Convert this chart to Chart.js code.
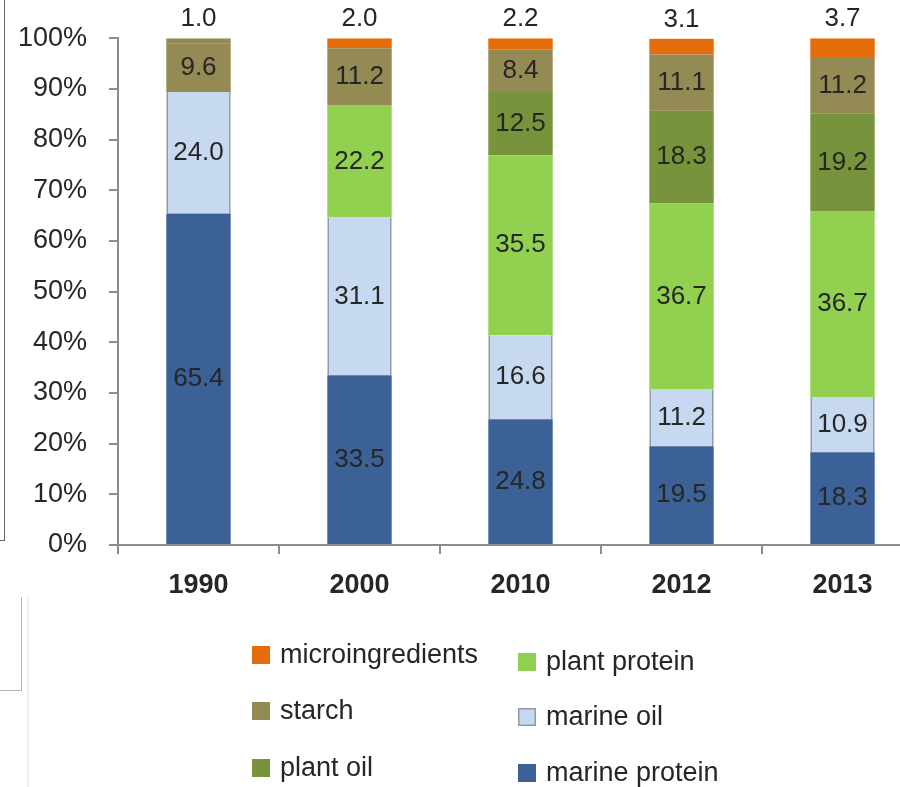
<!DOCTYPE html>
<html>
<head>
<meta charset="utf-8">
<script src="https://cdn.jsdelivr.net/npm/chart.js@4/dist/chart.umd.min.js"></script>
<style>
  html, body { margin: 0; padding: 0; background: #fff; overflow: hidden; }
  #wrap { position: absolute; left: 0; top: 0; width: 925px; height: 787px; }
  .edge { position: absolute; box-sizing: border-box; }
</style>
</head>
<body>
<!-- leftover frame lines along the left edge -->
<div class="edge" style="left:0;top:-2px;width:5px;height:543px;border-right:1.5px solid #666;border-bottom:1.5px solid #666;"></div>
<div class="edge" style="left:0;top:597px;width:22px;height:94px;border-right:1px solid #b5b5b5;border-bottom:1px solid #b5b5b5;"></div>
<div class="edge" style="left:27px;top:597px;width:2px;height:190px;background:#eeeeee;"></div>

<div id="wrap"><canvas id="feedChart" width="925" height="787"></canvas></div>

<script>
// feed composition by year, % of total
var years = ['1990', '2000', '2010', '2012', '2013'];
var marineProtein   = [65.4, 33.5, 24.8, 19.5, 18.3];
var marineOil       = [24.0, 31.1, 16.6, 11.2, 10.9];
var plantProtein    = [0,    22.2, 35.5, 36.7, 36.7];
var plantOil        = [0,    0,    12.5, 18.3, 19.2];
var starch          = [9.6,  11.2, 8.4,  11.1, 11.2];
var microIngredients = [1.0, 2.0,  2.2,  3.1,  3.7];
var yTicks = [0, 10, 20, 30, 40, 50, 60, 70, 80, 90, 100];

var FONT = 'Arial, "Liberation Sans", Helvetica, sans-serif';
var TEXT = '#262626';
var AXIS = '#8c8c8c';

var starchColor = '#948a54';
var microColor = '#e46c0a';

// in 1990 the micro slice is not set apart from starch
var microColors = years.map(function(y, i){ return i === 0 ? starchColor : microColor; });

var datasets = [
  { label: 'marine protein', data: marineProtein, backgroundColor: '#3b6196' },
  { label: 'marine oil', data: marineOil, backgroundColor: '#c6d9f1', borderColor: '#8e9aa8', borderWidth: {left: 2, right: 2, top: 0, bottom: 0} },
  { label: 'plant protein', data: plantProtein, backgroundColor: '#92d050' },
  { label: 'plant oil', data: plantOil, backgroundColor: '#77933c' },
  { label: 'starch', data: starch, backgroundColor: starchColor },
  { label: 'microingredients', data: microIngredients, backgroundColor: microColors, legendColor: microColor }
];

// value labels: inside each slice, micro value above the bar
var valueLabels = {
  id: 'valueLabels',
  afterDatasetsDraw: function(chart){
    var ctx = chart.ctx;
    ctx.save();
    ctx.font = '26px ' + FONT;
    ctx.fillStyle = TEXT;
    ctx.textAlign = 'center';
    ctx.textBaseline = 'middle';
    var last = chart.data.datasets.length - 1;
    chart.data.datasets.forEach(function(ds, di){
      var meta = chart.getDatasetMeta(di);
      meta.data.forEach(function(bar, i){
        var v = ds.data[i];
        if (!v) return;
        var p = bar.getProps(['x', 'y', 'base'], true);
        var y = di === last ? p.y - 19 : (p.y + p.base) / 2;
        ctx.fillText(v.toFixed(1), p.x, y);
      });
    });
    ctx.restore();
  }
};

// two-column legend under the axis, top slice first
var sideLegend = {
  id: 'sideLegend',
  afterDraw: function(chart){
    var ctx = chart.ctx;
    var items = chart.data.datasets.slice().reverse();
    var cols = [{x: 252, rows: [655, 711, 768]}, {x: 518, rows: [662, 717, 773]}];
    ctx.save();
    ctx.font = '27px ' + FONT;
    ctx.textBaseline = 'middle';
    items.forEach(function(ds, k){
      var col = cols[Math.floor(k / 3)];
      var y = col.rows[k % 3];
      ctx.fillStyle = ds.legendColor || ds.backgroundColor;
      ctx.fillRect(col.x, y - 9, 18, 18);
      if (ds.borderColor) {
        ctx.strokeStyle = ds.borderColor;
        ctx.lineWidth = 1.5;
        ctx.strokeRect(col.x + 0.75, y - 8.25, 16.5, 16.5);
      }
      ctx.fillStyle = TEXT;
      ctx.fillText(ds.label, col.x + 28, y + 1);
    });
    ctx.restore();
  }
};

new Chart(document.getElementById('feedChart'), {
  type: 'bar',
  data: { labels: years, datasets: datasets },
  plugins: [valueLabels, sideLegend],
  options: {
    responsive: false,
    animation: false,
    layout: { padding: { left: 0, top: 38, right: 2, bottom: 0 } },
    plugins: { legend: { display: false }, tooltip: { enabled: false } },
    datasets: { bar: { barPercentage: 0.4, categoryPercentage: 1, borderSkipped: false } },
    scales: {
      x: {
        stacked: true,
        offset: true,
        afterFit: function(s){ s.height = 242; },
        border: { color: AXIS, width: 2 },
        grid: { offset: true, drawOnChartArea: false, tickLength: 9, color: AXIS, lineWidth: 2 },
        ticks: { color: TEXT, padding: 15, font: { family: FONT, size: 27, weight: 'bold' } }
      },
      y: {
        stacked: true,
        min: 0,
        max: 100,
        afterFit: function(s){ s.width = 118; },
        afterBuildTicks: function(s){ s.ticks = yTicks.map(function(v){ return {value: v}; }); },
        border: { color: AXIS, width: 2 },
        grid: { drawOnChartArea: false, tickLength: 9, color: AXIS, lineWidth: 2 },
        ticks: {
          color: TEXT, padding: 22, font: { family: FONT, size: 27 },
          callback: function(v){ return v + '%'; }
        }
      }
    }
  }
});
</script>
</body>
</html>
